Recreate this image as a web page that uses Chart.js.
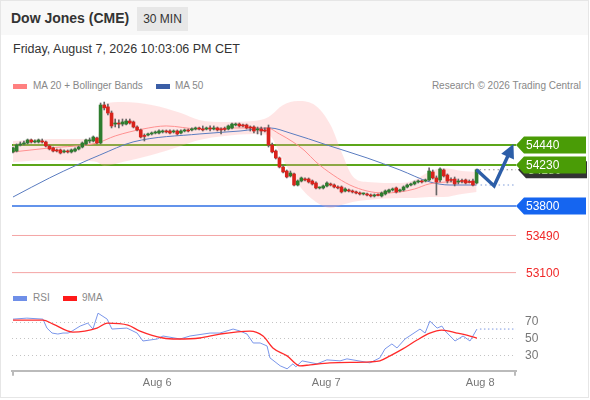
<!DOCTYPE html>
<html>
<head>
<meta charset="utf-8">
<title>Dow Jones (CME)</title>
<script src="https://cdn.jsdelivr.net/npm/chart.js@4.4.1/dist/chart.umd.min.js"></script>
<style>
  body { margin: 0; background: #fff; font-family: "Liberation Sans", Arial, sans-serif; }
  #wrap { position: relative; width: 590px; height: 400px; overflow: hidden; }
  #frame { position: absolute; left: 0; top: 0; width: 587px; height: 396px; border: 1px solid #e6e6e6; }
  #head { position: absolute; left: 1px; top: 1px; width: 587px; height: 34px; background: #f8f8f8; }
  #title { position: absolute; left: 11px; top: 10px; font-size: 14px; font-weight: bold; color: #333; }
  #tf { position: absolute; left: 137px; top: 7px; width: 51px; height: 24px; line-height: 24px; text-align: center;
        background: #e7e7e7; font-size: 12px; color: #333; }
  #date { position: absolute; left: 13px; top: 42px; font-size: 12.5px; color: #333; }
  .leg { position: absolute; font-size: 10px; color: #888; white-space: nowrap; }
  .sw { position: absolute; width: 14px; height: 5px; }
  canvas { position: absolute; left: 0; }
  #main { top: 95px; }
  #rsi { top: 290px; }
</style>
</head>
<body>
<div id="wrap">
  <div id="frame"></div>
  <div id="head"></div>
  <div id="title">Dow Jones (CME)</div>
  <div id="tf">30 MIN</div>
  <div id="date">Friday, August 7, 2026 10:03:06 PM CET</div>

  <div class="sw" style="left:13px;top:84px;background:#ff8080"></div>
  <div class="leg" style="left:33px;top:80px">MA 20 + Bollinger Bands</div>
  <div class="sw" style="left:156px;top:84px;background:#3b5ea6"></div>
  <div class="leg" style="left:175px;top:80px">MA 50</div>
  <div class="leg" style="right:9px;top:80px">Research © 2026 Trading Central</div>

  <div class="sw" style="left:13px;top:296px;background:#6f8fe8"></div>
  <div class="leg" style="left:33px;top:292px">RSI</div>
  <div class="sw" style="left:63px;top:296px;background:#ff1a1a"></div>
  <div class="leg" style="left:82px;top:292px">9MA</div>

  <canvas id="main" width="590" height="190"></canvas>
  <canvas id="rsi" width="590" height="106"></canvas>
</div>

<script>
// 30 min candles, index 0 = first candle shown
const opens = [
  54367,54377,54440,54451,54461,54493,54472,54472,54482,54472,54430,54409,54388,54388,54367,54377,
  54367,54377,54398,54419,54451,54482,54482,54514,54461,54860,54840,54776,54660,54671,54660,54660,
  54692,54682,54629,54598,54535,54545,54556,54566,54566,54577,54587,54587,54577,54587,54566,54587,
  54598,54598,54608,54619,54608,54608,54619,54608,54619,54608,54608,54608,54619,54650,54660,54650,
  54650,54629,54629,54598,54608,54598,54619,54440,54377,54304,54209,54167,54115,54136,54020,54062,
  54083,54083,54062,54041,53989,53989,54010,54031,54020,53999,53999,53957,53968,53957,53947,53936,
  53926,53926,53915,53905,53915,53905,53926,53947,53968,53989,53957,53968,53999,54020,54031,54052,
  54062,54062,54073,54157,54094,54073,54178,54125,54073,54083,54052,54062,54073,54052,54062,54041
];
const highs = [
  54419,54451,54472,54482,54503,54503,54493,54503,54503,54482,54440,54419,54398,54398,54388,54388,
  54398,54409,54430,54472,54503,54514,54535,54524,54881,54891,54870,54797,54713,54703,54713,54713,
  54713,54692,54640,54608,54556,54566,54577,54587,54598,54598,54598,54598,54598,54598,54598,54608,
  54608,54619,54629,54629,54640,54629,54640,54640,54629,54619,54629,54650,54671,54671,54671,54660,
  54660,54640,54640,54629,54629,54619,54650,54461,54388,54314,54230,54178,54167,54146,54073,54104,
  54094,54094,54073,54052,53999,54020,54052,54041,54031,54010,54010,53989,53978,53968,53957,53947,
  53936,53936,53926,53926,53926,53947,53968,53978,53989,53999,53978,54010,54031,54041,54062,54073,
  54073,54083,54199,54178,54115,54199,54188,54136,54094,54104,54083,54083,54083,54073,54083,54188
];
const lows = [
  54356,54367,54430,54440,54451,54461,54461,54461,54461,54419,54388,54367,54367,54346,54356,54356,
  54356,54367,54388,54409,54440,54461,54472,54451,54451,54808,54755,54619,54629,54619,54640,54650,
  54660,54619,54587,54514,54482,54535,54545,54556,54556,54566,54566,54556,54566,54545,54556,54577,
  54577,54587,54598,54598,54587,54598,54587,54598,54587,54556,54587,54598,54608,54640,54629,54629,
  54608,54587,54566,54556,54545,54577,54419,54356,54293,54199,54146,54094,54104,54010,54010,54052,
  54062,54041,54020,53978,53978,53978,53999,54010,53989,53978,53936,53947,53947,53936,53926,53915,
  53915,53905,53894,53894,53905,53894,53915,53936,53957,53936,53947,53957,53989,54010,54020,54041,
  54041,54052,54062,54083,53915,54052,54104,54041,54052,54010,54031,54041,54031,54041,54010,54031
];
const closes = [
  54409,54440,54451,54461,54493,54472,54482,54493,54472,54430,54398,54377,54377,54356,54377,54367,
  54388,54398,54419,54461,54493,54493,54524,54461,54860,54830,54776,54640,54671,54660,54682,54692,
  54671,54629,54598,54524,54530,54556,54566,54570,54587,54587,54577,54566,54587,54556,54587,54592,
  54587,54608,54619,54608,54598,54619,54608,54619,54598,54598,54603,54640,54660,54655,54640,54640,
  54619,54619,54587,54608,54587,54587,54440,54367,54304,54209,54157,54104,54146,54020,54062,54094,
  54073,54052,54031,53989,53994,54010,54041,54020,53999,53989,53947,53978,53957,53947,53936,53926,
  53931,53915,53905,53915,53910,53936,53957,53968,53978,53947,53968,53999,54020,54031,54052,54062,
  54052,54073,54167,54094,54052,54188,54115,54062,54068,54031,54062,54057,54041,54047,54020,54180
];

// moving averages (candle index, price)
const ma20X = [0, 10, 23, 28, 35.6, 42, 51, 59.5, 69.6, 73, 76.7, 80, 83, 87.7, 92.3, 97, 101.4, 106, 110, 114, 120.5, 127];
const ma20Y = [54367, 54409, 54461, 54535, 54608, 54640, 54608, 54619, 54619, 54556, 54472, 54377, 54262, 54125, 54020, 53957, 53936, 53947, 53978, 54031, 54052, 54052];

const bandX  = [0, 10, 20, 23, 25, 30, 38, 46, 51, 58, 66, 70, 74, 78, 83, 87, 90, 93, 97, 106, 110, 114, 118, 123, 127];
const bandUp = [54482, 54503, 54503, 54503, 54870, 54891, 54860, 54776, 54703, 54682, 54692, 54734, 54860, 54902, 54850, 54650, 54367, 54115, 54052, 54041, 54073, 54157, 54199, 54167, 54157];
const bandLo = [54262, 54283, 54272, 54262, 54220, 54262, 54335, 54430, 54493, 54535, 54556, 54545, 54283, 54031, 53842, 53779, 53810, 53842, 53863, 53884, 53884, 53894, 53894, 53926, 53947];

const ma50X = [0, 10, 17.5, 23.8, 32.9, 51.2, 62.2, 70.4, 75.9, 86, 97, 106, 114.2, 119.7, 127];
const ma50Y = [53894, 54094, 54230, 54335, 54472, 54556, 54587, 54619, 54566, 54440, 54304, 54178, 54052, 54020, 54020];

// key levels and the forecast path
const levelValues = [54440, 54230, 53800, 53490, 53100];
const levelKind = ['res', 'res', 'pivot', 'sup', 'sup'];
const projX = [127, 131.8, 136.3];
const projY = [54180, 54010, 54385];

// RSI panel
const rsiX = [0, 3.8, 8.2, 9.3, 10.7, 12.3, 13.7, 15.1, 16.2, 18.4, 20.5, 21.9, 23.3, 25.8, 27.1, 31.2, 34, 35.6, 39.5, 41.1,
  45.8, 48.5, 54, 56.7, 60.3, 62.2, 64.1, 65.8, 67.7, 69.6, 70.4, 73.2, 75.1, 76.7, 77.5, 79.2, 83.3, 86, 89.6, 91.5,
  97.8, 100.5, 101.9, 103.8, 105.2, 107.4, 111.5, 112.9, 114.2, 116.2, 117.5, 118.4, 121.1, 123.3, 125.2, 127.1];
const rsiY = [73.6, 74.8, 73.6, 62.8, 56.8, 55.6, 56.8, 56.8, 59.2, 65.2, 68.8, 61.6, 80.8, 73.6, 61.6, 62.8, 56.8, 47.2, 49.6, 53.2,
  49.6, 53.2, 56.8, 56.8, 61.6, 59.2, 55.6, 44.8, 44.8, 41.2, 26.8, 17.2, 13.6, 19.6, 16, 23.2, 19.6, 24.4, 23.2, 25.6,
  20.8, 26.8, 37.6, 43.6, 38.8, 49.6, 61.6, 56.8, 71.2, 62.8, 65.2, 59.2, 47.2, 53.2, 47.2, 61.6];
const rsiMaX = [0, 8.2, 11, 16.4, 23, 25.8, 31.5, 34.8, 41.1, 45, 51.2, 56.7, 64.9, 68.5, 71.2, 75.1, 78.6, 81.4, 86.8, 97.8,
  100.5, 103.3, 106.8, 110.7, 114.2, 117.5, 121.6, 125.2, 127.1];
const rsiMaY = [72.4, 72.4, 67.6, 58, 62.8, 68.8, 66.4, 59.2, 50.8, 49.6, 50.8, 55.6, 59.2, 53.2, 38.8, 29.2, 17.2, 18.4, 20.8, 22,
  23.2, 29.2, 37.6, 48.4, 56.8, 60.4, 56.8, 53.2, 50.8];
const rsiTicks = [30, 50, 70];

const dayTickPos = [39.5, 85.8, 128];
const dayTickLabels = ['Aug 6', 'Aug 7', 'Aug 8'];

const xMin = -0.27, xMax = 137.8;
const pts = (xs, ys) => xs.map((v, i) => ({ x: v, y: ys[i] }));

const levelStyle = {
  res:   { line: '#5ca61a', width: 2,   box: '#4a9c06' },
  pivot: { line: '#2f6fe4', width: 1.5, box: '#1565f0' },
  sup:   { line: '#f4a5a5', width: 1,   text: '#f02828' }
};

function tag(ctx, x, yc, w, fill, text) {
  ctx.fillStyle = fill;
  ctx.beginPath();
  ctx.moveTo(x, yc);
  ctx.lineTo(x + 8, yc - 8.5);
  ctx.lineTo(x + w, yc - 8.5);
  ctx.lineTo(x + w, yc + 8.5);
  ctx.lineTo(x + 8, yc + 8.5);
  ctx.closePath();
  ctx.fill();
  ctx.fillStyle = '#fff';
  ctx.font = '12px "Liberation Sans", Arial';
  ctx.textBaseline = 'middle';
  ctx.fillText(text, x + 10, yc + 1);
}

const mainExtras = {
  id: 'mainExtras',
  beforeDatasetsDraw(chart) {
    const { ctx, chartArea: a, scales: { y } } = chart;
    ctx.save();
    levelValues.forEach((v, i) => {
      const st = levelStyle[levelKind[i]];
      const py = y.getPixelForValue(v);
      ctx.strokeStyle = st.line;
      ctx.lineWidth = st.width;
      ctx.beginPath();
      ctx.moveTo(a.left, py);
      ctx.lineTo(a.right, py);
      ctx.stroke();
    });
    ctx.restore();
  },
  afterDatasetsDraw(chart) {
    const { ctx, chartArea: a, scales: { x, y } } = chart;
    const last = closes.length - 1;
    ctx.save();

    // dotted extensions of last price and MA 50
    ctx.lineWidth = 1;
    ctx.setLineDash([1.5, 3]);
    ctx.strokeStyle = '#8a8a8a';
    let py = y.getPixelForValue(closes[last]);
    ctx.beginPath(); ctx.moveTo(x.getPixelForValue(last) + 3, py); ctx.lineTo(a.right, py); ctx.stroke();
    ctx.strokeStyle = '#7b9ad8';
    py = y.getPixelForValue(ma50Y[ma50Y.length - 1]);
    ctx.beginPath(); ctx.moveTo(x.getPixelForValue(ma50X[ma50X.length - 1]) + 4, py); ctx.lineTo(a.right, py); ctx.stroke();
    ctx.setLineDash([]);

    // forecast arrow
    const p = projX.map((v, i) => [x.getPixelForValue(v), y.getPixelForValue(projY[i])]);
    ctx.strokeStyle = '#2c5ea8';
    ctx.fillStyle = '#2c5ea8';
    ctx.lineWidth = 3.5;
    ctx.lineJoin = 'miter';
    ctx.beginPath();
    ctx.moveTo(p[0][0], p[0][1]);
    for (let i = 1; i < p.length; i++) ctx.lineTo(p[i][0], p[i][1]);
    ctx.stroke();
    const [x1, y1] = p[p.length - 2], [x2, y2] = p[p.length - 1];
    const ang = Math.atan2(y2 - y1, x2 - x1);
    const tx = x2 + Math.cos(ang) * 7, ty = y2 + Math.sin(ang) * 7;
    const bx = tx - Math.cos(ang) * 14, by = ty - Math.sin(ang) * 14;
    ctx.beginPath();
    ctx.moveTo(tx, ty);
    ctx.lineTo(bx + Math.sin(ang) * 7, by - Math.cos(ang) * 7);
    ctx.lineTo(bx - Math.sin(ang) * 7, by + Math.cos(ang) * 7);
    ctx.closePath();
    ctx.fill();

    // last price tag sits under the level tags
    tag(ctx, a.right + 2, y.getPixelForValue(closes[last]), 69, '#333333', String(closes[last]));
    levelValues.forEach((v, i) => {
      const st = levelStyle[levelKind[i]];
      const yc = y.getPixelForValue(v);
      if (st.box) {
        tag(ctx, a.right, yc, 70, st.box, String(v));
      } else {
        ctx.fillStyle = st.text;
        ctx.font = '12px "Liberation Sans", Arial';
        ctx.textBaseline = 'middle';
        ctx.fillText(String(v), a.right + 10, yc + 1);
      }
    });
    ctx.restore();
  }
};

new Chart(document.getElementById('main'), {
  type: 'bar',
  data: {
    datasets: [
      {
        type: 'line', data: pts(bandX, bandUp), borderWidth: 0, pointRadius: 0,
        cubicInterpolationMode: 'monotone', fill: false, order: 5
      },
      {
        type: 'line', data: pts(bandX, bandLo), borderWidth: 0, pointRadius: 0,
        cubicInterpolationMode: 'monotone', fill: '-1', backgroundColor: 'rgba(255,170,170,0.3)', order: 5
      },
      {
        type: 'line', data: pts(ma50X, ma50Y), borderColor: '#5a7cc0', borderWidth: 1, pointRadius: 0,
        cubicInterpolationMode: 'monotone', order: 3
      },
      {
        type: 'line', data: pts(ma20X, ma20Y), borderColor: '#ff9090', borderWidth: 1, pointRadius: 0,
        cubicInterpolationMode: 'monotone', order: 2
      },
      {
        data: lows.map((l, i) => ({ x: i, y: [l, highs[i]] })),
        backgroundColor: '#666', barThickness: 1, grouped: false, order: 1
      },
      {
        data: opens.map((o, i) => ({ x: i, y: [o, closes[i]] })),
        backgroundColor: c => closes[c.dataIndex] >= opens[c.dataIndex] ? '#2e7d2e' : '#d8231c',
        barThickness: 3, minBarLength: 1, grouped: false, order: 0
      }
    ]
  },
  options: {
    responsive: false,
    animation: false,
    layout: { padding: { left: 12, right: 74, top: 0, bottom: 0 } },
    plugins: { legend: { display: false }, tooltip: { enabled: false } },
    scales: {
      x: { type: 'linear', min: xMin, max: xMax, offset: false, display: false },
      y: { min: 52970, max: 54965, display: false }
    }
  },
  plugins: [mainExtras]
});

const rsiExtras = {
  id: 'rsiExtras',
  afterDatasetsDraw(chart) {
    const { ctx, chartArea: a, scales: { x, y } } = chart;
    const li = rsiX.length - 1;
    ctx.save();
    ctx.strokeStyle = '#7d98e0';
    ctx.lineWidth = 1;
    ctx.setLineDash([1.5, 2.5]);
    const py = y.getPixelForValue(rsiY[li]);
    ctx.beginPath(); ctx.moveTo(x.getPixelForValue(rsiX[li]) + 3, py); ctx.lineTo(a.right, py); ctx.stroke();
    ctx.restore();
  },
  afterDraw(chart) {
    const { ctx, chartArea: a } = chart;
    ctx.save();
    ctx.strokeStyle = '#bbb';
    ctx.lineWidth = 2;
    [a.left + 1, a.right - 1].forEach(px => {
      ctx.beginPath(); ctx.moveTo(px, a.bottom); ctx.lineTo(px, a.bottom + 5); ctx.stroke();
    });
    ctx.restore();
  }
};

new Chart(document.getElementById('rsi'), {
  type: 'line',
  data: {
    datasets: [
      { data: pts(rsiMaX, rsiMaY), borderColor: '#ff2a2a', borderWidth: 1.3, pointRadius: 0, cubicInterpolationMode: 'monotone' },
      { data: pts(rsiX, rsiY), borderColor: '#7a96ea', borderWidth: 1, pointRadius: 0, tension: 0 }
    ]
  },
  options: {
    responsive: false,
    animation: false,
    layout: { padding: { left: 12, right: 0, top: 0, bottom: 0 } },
    plugins: { legend: { display: false }, tooltip: { enabled: false } },
    scales: {
      x: {
        type: 'linear', min: xMin, max: xMax, offset: false,
        afterBuildTicks: s => { s.ticks = dayTickPos.map(v => ({ value: v })); },
        grid: { display: false, drawTicks: false },
        border: { color: '#bbb', width: 2 },
        ticks: {
          padding: 6, color: '#777', font: { size: 11, family: '"Liberation Sans", Arial' },
          maxRotation: 0, autoSkip: false,
          callback: (v, i) => dayTickLabels[i]
        }
      },
      y: {
        position: 'right', min: 11.2, max: 89.2,
        afterBuildTicks: s => { s.ticks = rsiTicks.map(v => ({ value: v })); },
        afterFit: s => { s.width = 74; },
        grid: { color: '#c4c4c4', drawTicks: false },
        border: { display: false, dash: [1, 3] },
        ticks: { padding: 9, color: '#777', font: { size: 12, family: '"Liberation Sans", Arial' } }
      }
    }
  },
  plugins: [rsiExtras]
});
</script>
</body>
</html>
